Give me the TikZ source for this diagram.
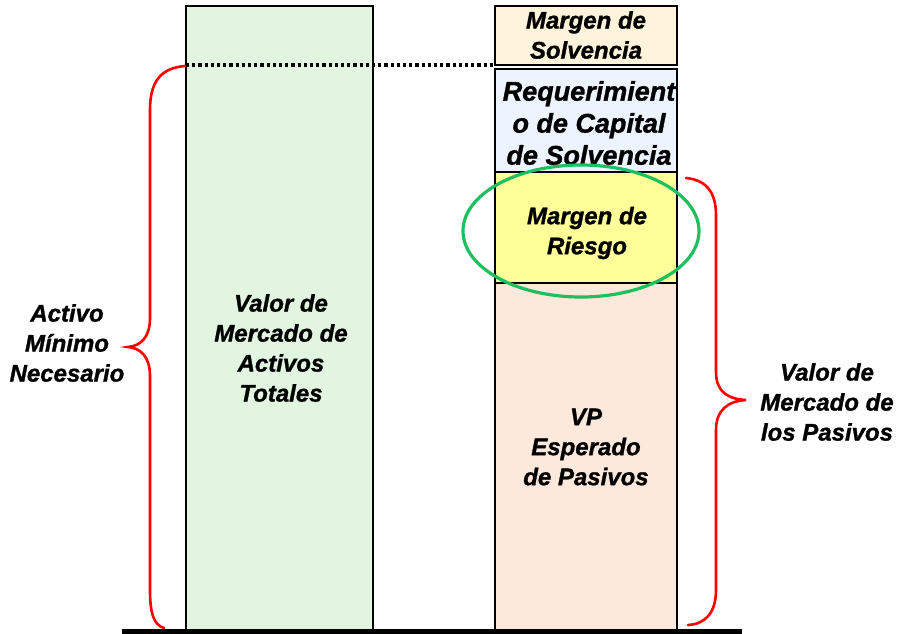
\documentclass[tikz,border=0pt]{standalone}
\usepackage{fontspec}
\setmainfont{Liberation Sans}
\newfontface\heavy{Liberation Sans Bold Italic}[FakeBold=1.2]
\definecolor{cgreen}{HTML}{E2F5E1}
\definecolor{ccream}{HTML}{FFF4DB}
\definecolor{cblue}{HTML}{EEF4FF}
\definecolor{cyellow}{HTML}{FFFF99}
\definecolor{cpeach}{HTML}{FDE8DC}
\definecolor{cring}{HTML}{1DBF5F}
\begin{document}
\begin{tikzpicture}[x=1pt,y=-1pt,
  bar/.style={draw=black,line width=1.6pt,minimum width=#1,inner sep=0pt,outer sep=0pt},
  txt/.style={font=\fontsize{24}{30}\heavy,align=center,inner sep=0pt},
  bigtxt/.style={font=\fontsize{27}{32}\heavy,align=center,inner sep=0pt},
  brace/.style={draw=red,line width=2.6pt,line cap=round},
  ring/.style={draw=cring,line width=3.2pt}]
\useasboundingbox (0,0) rectangle (905,634);
% left column
\node[bar=187pt,minimum height=624pt,fill=cgreen] (activos) at (279.5,318) {};
% right column
\node[bar=182pt,minimum height=59pt,fill=ccream] (msolv) at (586,35.5) {};
\node[bar=182pt,minimum height=103pt,fill=cblue] (rcs) at (586,120.5) {};
\node[bar=182pt,minimum height=111pt,fill=cyellow] (mriesgo) at (586,227.5) {};
\node[bar=182pt,minimum height=347pt,fill=cpeach] (vp) at (586,456.5) {};
% texts
\node[txt] (tmsolv) at (586,35) {Margen de\\Solvencia};
\node[bigtxt] (trcs) at (589,123) {Requerimient\\o de Capital\\de Solvencia};
\node[txt] (tmriesgo) at (587,233) {Margen de\\Riesgo};
\node[txt] (tvp) at (586,447) {VP\\Esperado\\de Pasivos};
\node[txt] (tactivos) at (281,348) {Valor de\\Mercado de\\Activos\\Totales};
\node[txt] (tamn) at (67,343) {Activo\\Mínimo\\Necesario};
\node[txt] (tvmp) at (827,402) {Valor de\\Mercado de\\los Pasivos};
% dotted line
\coordinate (d1) at (186,65);
\coordinate (d2) at (495,65);
\draw[line width=3.5pt,dash pattern=on 3.2pt off 3pt] (d1) -- (d2);
% ellipse
\draw[ring] (581,231) ellipse [x radius=118,y radius=66];
% braces
\draw[brace] (185,66) .. controls (162,68) and (150,80) .. (150,110) -- (150,318)
  .. controls (150,338) and (140,346) .. (128,347)
  .. controls (140,348) and (150,356) .. (150,376) -- (150,590)
  .. controls (150,614) and (154,625) .. (164,628);
\draw[brace] (686,178) .. controls (706,180) and (716,192) .. (716,215) -- (716,372)
  .. controls (716,392) and (728,399) .. (746,400)
  .. controls (728,401) and (716,410) .. (716,430) -- (716,590)
  .. controls (716,612) and (706,624) .. (688,625);
% baseline
\coordinate (b1) at (122,631);
\coordinate (b2) at (742,631);
\draw[line width=5pt] (b1) -- (b2);
\end{tikzpicture}
\end{document}
